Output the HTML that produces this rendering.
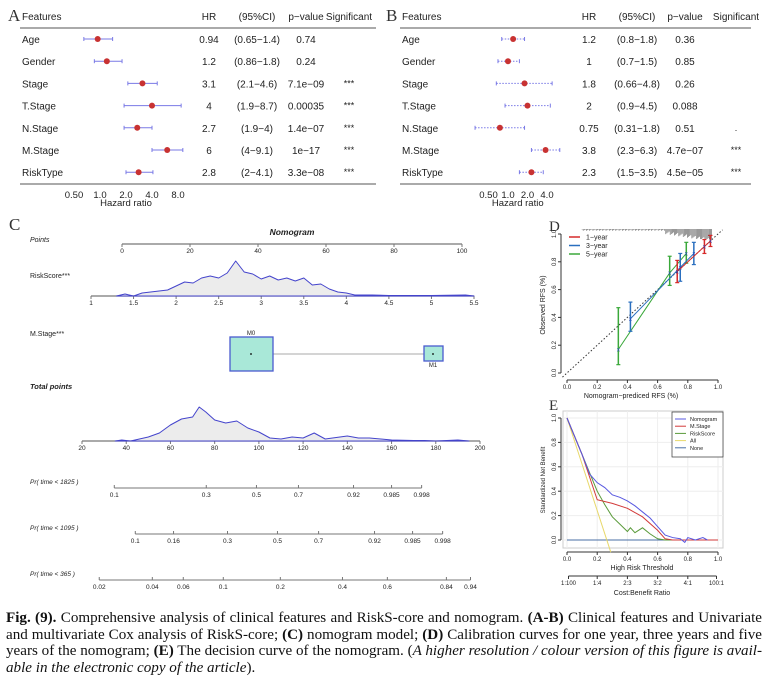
<!DOCTYPE html>
<html><head><meta charset="utf-8">
<style>
body{margin:0;background:#fff;width:768px;height:678px;overflow:hidden;position:relative;font-family:"Liberation Sans",sans-serif}
svg{position:absolute;left:0;top:0}
#cap{position:absolute;left:6px;top:610px;width:756px;font-family:"Liberation Serif",serif;font-size:15.1px;line-height:16.5px;text-align:justify;color:#111;hyphens:manual}
</style></head><body>
<svg id="fig" width="768" height="606" viewBox="0 0 768 606" font-family="Liberation Sans, sans-serif"></svg>
<div id="cap"><b>Fig. (9).</b> Comprehensive analysis of clinical features and RiskS-core and nomogram. <b>(A-B)</b> Clinical features and Univariate and multivariate Cox analysis of RiskS-core; <b>(C)</b> nomogram model; <b>(D)</b> Calibration curves for one year, three years and five years of the nomogram; <b>(E)</b> The decision curve of the nomogram. (<i>A higher resolution / colour version of this figure is avail&shy;able in the electronic copy of the article</i>).</div>
<script>
// ---- Forest A ----
const featuresA=["Age","Gender","Stage","T.Stage","N.Stage","M.Stage","RiskType"];
const hrA=[0.94,1.2,3.1,4,2.7,6,2.8];
const loA=[0.65,0.86,2.1,1.9,1.9,4,2];
const hiA=[1.4,1.8,4.6,8.7,4,9.1,4.1];
const ciA=["(0.65−1.4)","(0.86−1.8)","(2.1−4.6)","(1.9−8.7)","(1.9−4)","(4−9.1)","(2−4.1)"];
const pA=["0.74","0.24","7.1e−09","0.00035","1.4e−07","1e−17","3.3e−08"];
const sigA=["","","***","***","***","***","***"];
const ticksA=[0.5,1,2,4,8];
const tickLabA=["0.50","1.0","2.0","4.0","8.0"];
// ---- Forest B ----
const featuresB=["Age","Gender","Stage","T.Stage","N.Stage","M.Stage","RiskType"];
const hrB=[1.2,1,1.8,2,0.75,3.8,2.3];
const loB=[0.8,0.7,0.66,0.9,0.31,2.3,1.5];
const hiB=[1.8,1.5,4.8,4.5,1.8,6.3,3.5];
const ciB=["(0.8−1.8)","(0.7−1.5)","(0.66−4.8)","(0.9−4.5)","(0.31−1.8)","(2.3−6.3)","(1.5−3.5)"];
const pB=["0.36","0.85","0.26","0.088","0.51","4.7e−07","4.5e−05"];
const sigB=["","","","",".","***","***"];
const ticksB=[0.5,1,2,4];
const tickLabB=["0.50","1.0","2.0","4.0"];
// ---- Nomogram ----
const pointTicks=[0,20,40,60,80,100];
const rsTicks=[1,1.5,2,2.5,3,3.5,4,4.5,5,5.5];
const rsX=[1.3,1.4,1.5,1.6,1.8,1.9,2.0,2.1,2.2,2.3,2.4,2.5,2.6,2.7,2.8,2.9,3.0,3.1,3.2,3.3,3.4,3.5,3.6,3.7,3.8,3.9,4.0,4.1,4.3,4.5,5.0,5.4,5.5];
const rsD=[0,2,0,3,5,6,10,14,13,18,20,18,23,35,24,22,17,20,16,18,15,18,11,12,7,4,3,1,1,0.5,0.5,1,0];
const tpTicks=[20,40,60,80,100,120,140,160,180,200];
const tpX=[35,38,42,50,55,60,65,70,73,76,80,85,90,95,100,105,110,115,120,125,130,140,145,150,160,170,175,180,190,195];
const tpD=[0,1,0,4,8,16,22,24,34,29,21,18,20,13,9,3,2,4,3,8,2,5,3,3,1,0.5,0.5,0,1,0];
const pr1825Lab=["0.1","0.3","0.5","0.7","0.92","0.985","0.998"];
const pr1825Pts=[34.6,76.2,98.9,117.9,142.8,160,173.6];
const pr1095Lab=["0.1","0.16","0.3","0.5","0.7","0.92","0.985","0.998"];
const pr1095Pts=[44.1,61.4,85.8,108.4,127,152.3,169.5,183.1];
const pr365Lab=["0.02","0.04","0.06","0.1","0.2","0.4","0.6","0.84","0.94"];
const pr365Pts=[27.8,51.8,65.8,83.9,109.7,137.8,158.1,184.8,195.7];
// ---- Calibration ----
const cal1X=[0.73,0.91,0.95],cal1Y=[0.73,0.91,0.95],cal1Lo=[0.65,0.86,0.91],cal1Hi=[0.81,0.96,0.99];
const cal3X=[0.42,0.75,0.84],cal3Y=[0.39,0.76,0.86],cal3Lo=[0.30,0.66,0.78],cal3Hi=[0.51,0.86,0.94];
const cal5X=[0.34,0.68,0.79],cal5Y=[0.17,0.72,0.86],cal5Lo=[0.06,0.63,0.79],cal5Hi=[0.47,0.84,0.94];
const calTicks=[0,0.2,0.4,0.6,0.8,1.0];
// ---- DCA ----
const dcaT=[0,0.1,0.15,0.2,0.25,0.3,0.35,0.4,0.45,0.5,0.55,0.6,0.65,0.7,0.75,0.78,0.8,0.85,0.9,0.93];
const dcaNomo=[1,0.7,0.54,0.47,0.43,0.37,0.35,0.32,0.28,0.23,0.18,0.11,0.04,0.02,0.01,-0.02,0.02,0,0.02,0];
const dcaMT=[0,0.1,0.2,0.3,0.4,0.5,0.6,0.65,0.7,0.8,0.9,1.0];
const dcaMS=[1,0.7,0.33,0.3,0.26,0.19,0.08,0.01,0,0,0,0];
const dcaRT=[0,0.1,0.2,0.25,0.3,0.35,0.4,0.42,0.45,0.5,0.55,0.6,0.65,0.7,1.0];
const dcaRS=[1,0.7,0.4,0.29,0.19,0.13,0.07,0.1,0.06,0.1,0.05,0.01,0,0,0];
const dcaAllT=[0,0.29];
const dcaAll=[1,-0.1];
const cbLab=["1:100","1:4","2:3","3:2","4:1","100:1"];
const cbT=[0.01,0.2,0.4,0.6,0.8,0.99];

const svg=document.getElementById('fig');
const NS="http://www.w3.org/2000/svg";
function mk(tag,attrs,parent){const e=document.createElementNS(NS,tag);for(const k in attrs)e.setAttribute(k,attrs[k]);(parent||svg).appendChild(e);return e;}
function txt(x,y,s,size,anchor,extra,parent){const t=mk('text',Object.assign({x:x,y:y,'font-size':size,'text-anchor':anchor||'start',fill:'#222'},extra||{}),parent);t.textContent=s;return t;}

// forest panels
function forest(ox,fx,feat,hr,lo,hi,ci,p,sig,ticks,tl,x0,k,dotted,letter,cols,lineEnd){
  const g=mk('g',{});
  
  
  const xs=v=>x0+k*Math.log2(v);
  const L=mk('text',{x:ox,y:21,'font-size':17,'font-family':'Liberation Serif, serif',fill:'#333'},g);L.textContent=letter;
  const hy=20;
  txt(fx,hy,"Features",10,'start',{},g);
  txt(cols[0],hy,"HR",10,'middle',{},g);
  txt(cols[1],hy,"(95%CI)",10,'middle',{},g);
  txt(cols[2],hy,"p−value",10,'middle',{},g);
  txt(cols[3],hy,"Significant",10,'middle',{},g);
  mk('line',{x1:fx-2,x2:lineEnd,y1:28,y2:28,stroke:'#555','stroke-width':1},g);
  mk('line',{x1:fx-2,x2:lineEnd,y1:184,y2:184,stroke:'#555','stroke-width':1},g);
  for(let i=0;i<feat.length;i++){
    const y=39+i*22.2;
    const r=mk('g',{},g);
    
    
    txt(fx,y+4,feat[i],10,'start',{},r);
    txt(cols[0],y+4,String(hr[i]),10,'middle',{},r);
    txt(cols[1],y+4,ci[i],10,'middle',{},r);
    txt(cols[2],y+4,p[i],10,'middle',{},r);
    txt(cols[3],y+3,sig[i],9,'middle',{},r);
    mk('line',{x1:xs(lo[i]),x2:xs(hi[i]),y1:y,y2:y,stroke:'#7a7ae6','stroke-width':1,'stroke-dasharray':dotted?'1.5,1.5':'none'},r);
    mk('line',{x1:xs(lo[i]),x2:xs(lo[i]),y1:y-2,y2:y+2,stroke:'#7a7ae6'},r);
    mk('line',{x1:xs(hi[i]),x2:xs(hi[i]),y1:y-2,y2:y+2,stroke:'#7a7ae6'},r);
    mk('circle',{cx:xs(hr[i]),cy:y,r:3,fill:'#c83232'},r);
  }
  ticks.forEach((v,i)=>txt(xs(v),198,tl[i],9.5,'middle',{},g));
  txt(xs(Math.sqrt(ticks[0]*ticks[ticks.length-1])),206,"Hazard ratio",9.5,'middle',{},g);
}
forest(8,22,featuresA,hrA,loA,hiA,ciA,pA,sigA,ticksA,tickLabA,100,26,false,'A',[209,257,306,349],376);
forest(386,402,featuresB,hrB,loB,hiB,ciB,pB,sigB,ticksB,tickLabB,508,19.5,true,'B',[589,637,685,736],751);

// Nomogram
const gN=mk('g',{});


const Lc=mk('text',{x:9,y:230,'font-size':17,'font-family':'Liberation Serif, serif',fill:'#333'},gN);Lc.textContent='C';
txt(292,235,"Nomogram",8.5,'middle',{'font-weight':'bold','font-style':'italic'},gN);
txt(30,242,"Points",7,'start',{'font-style':'italic'},gN);
function axis(x1,x2,y,vals,labs,v0,v1,g,name,ty){
  const a=mk('g',{},g);
  
  
  const s=v=>x1+(v-v0)/(v1-v0)*(x2-x1);
  mk('line',{x1:x1,x2:x2,y1:y,y2:y,stroke:'#777','stroke-width':1.2},a);
  vals.forEach((v,i)=>{mk('line',{x1:s(v),x2:s(v),y1:y,y2:y+3,stroke:'#777'},a);txt(s(v),y+(ty||9),labs[i],6.5,'middle',{},a);});
  return s;
}
axis(122,462,244,pointTicks,pointTicks.map(String),0,100,gN,'points-axis');
txt(30,278,"RiskScore***",7,'start',{},gN);
const rsS=axis(91,474,296,rsTicks,rsTicks.map(String),1,5.5,gN,'riskscore-axis');
function dens(xs,ds,sc,base,name){
  let d='M'+sc(xs[0])+','+base;
  xs.forEach((v,i)=>{d+=' L'+sc(v).toFixed(1)+','+(base-ds[i]).toFixed(1);});
  d+=' L'+sc(xs[xs.length-1])+','+base+' Z';
  const p=mk('path',{d:d,fill:'#ececec',stroke:'#4444cc','stroke-width':1,'stroke-linejoin':'round'},gN);
  
  
}
dens(rsX,rsD,rsS,296,'riskscore-density');
txt(30,336,"M.Stage***",7,'start',{},gN);
mk('line',{x1:273,x2:424,y1:354,y2:354,stroke:'#aaa'},gN);
const b0=mk('rect',{x:230,y:337,width:43,height:34,fill:'#a9e8d8',stroke:'#4a5ad0','stroke-width':1.3},gN);

const b1=mk('rect',{x:424,y:346,width:19,height:15,fill:'#a9e8d8',stroke:'#4a5ad0','stroke-width':1.3},gN);

mk('circle',{cx:251,cy:354,r:0.9,fill:'#000'},gN);mk('circle',{cx:433,cy:354,r:0.9,fill:'#000'},gN);
txt(251,335,"M0",6,'middle',{},gN);txt(433,367,"M1",6,'middle',{},gN);
txt(30,389,"Total points",7.5,'start',{'font-weight':'bold','font-style':'italic'},gN);
const tpS=axis(82,480,441,tpTicks,tpTicks.map(String),20,200,gN,'total-points-axis');
dens(tpX,tpD,tpS,441,'total-points-density');
function prAxis(y,pts,labs,label,name){
  txt(30,y-6+2,label,6.5,'start',{'font-style':'italic'},gN);
  const a=mk('g',{},gN);
  
  
  mk('line',{x1:tpS(pts[0]),x2:tpS(pts[pts.length-1]),y1:y,y2:y,stroke:'#777'},a);
  pts.forEach((v,i)=>{mk('line',{x1:tpS(v),x2:tpS(v),y1:y,y2:y-3,stroke:'#777'},a);txt(tpS(v),y+9,labs[i],6.5,'middle',{},a);});
}
prAxis(488,pr1825Pts,pr1825Lab,"Pr( time < 1825 )",'pr-1825-axis');
prAxis(534,pr1095Pts,pr1095Lab,"Pr( time < 1095 )",'pr-1095-axis');
prAxis(580,pr365Pts,pr365Lab,"Pr( time < 365 )",'pr-365-axis');

// Calibration D
const gD=mk('g',{});


const Ld=mk('text',{x:549,y:231,'font-size':15,'font-family':'Liberation Serif, serif',fill:'#333'},gD);Ld.textContent='D';
const cx=v=>567+v*151, cy=v=>373-v*139;
mk('line',{x1:cx(0),x2:cx(1),y1:380,y2:380,stroke:'#333'},gD);
mk('line',{x1:561,x2:561,y1:cy(0),y2:cy(1),stroke:'#333'},gD);
calTicks.forEach(v=>{mk('line',{x1:cx(v),x2:cx(v),y1:380,y2:383,stroke:'#333'},gD);txt(cx(v),389,v.toFixed(1),6,'middle',{},gD);
 mk('line',{x1:561,x2:558,y1:cy(v),y2:cy(v),stroke:'#333'},gD);txt(556,cy(v),v.toFixed(1),6,'middle',{transform:'rotate(-90 556 '+cy(v)+')'},gD);});
txt(631,398,"Nomogram−prediced RFS (%)",7,'middle',{},gD);
txt(545,305,"Observed RFS (%)",7,'middle',{transform:'rotate(-90 545 305)'},gD);
mk('line',{x1:cx(-0.03),y1:cy(-0.03),x2:cx(1.03),y2:cy(1.03),stroke:'#333','stroke-dasharray':'1.5,2'},gD);
// rug
for(let i=0;i<120;i++){const v=0.1+i*0.0072;const h=v>0.65?(2+(v-0.65)*25+((i*7)%4)):((i*5)%3)*0.6+0.5;mk('line',{x1:cx(v),x2:cx(v),y1:229,y2:229+Math.min(h,10),stroke:'#555','stroke-width':0.6},gD);}
function cal(xs,ys,lo,hi,col,name){
  const g=mk('g',{},gD);
  
  
  mk('polyline',{points:xs.map((v,i)=>cx(v)+','+cy(ys[i])).join(' '),fill:'none',stroke:col,'stroke-width':1},g);
  xs.forEach((v,i)=>{mk('line',{x1:cx(v),x2:cx(v),y1:cy(lo[i]),y2:cy(hi[i]),stroke:col,'stroke-width':1.5},g);
   mk('line',{x1:cx(v)-2,x2:cx(v)+2,y1:cy(lo[i]),y2:cy(lo[i]),stroke:col,'stroke-width':1.2},g);
   mk('line',{x1:cx(v)-2,x2:cx(v)+2,y1:cy(hi[i]),y2:cy(hi[i]),stroke:col,'stroke-width':1.2},g);
   txt(cx(v),cy(ys[i])+2,'x',6,'middle',{fill:'#2244bb'},g);});
}
cal(cal5X,cal5Y,cal5Lo,cal5Hi,'#3aa83a','series-5-year');
cal(cal3X,cal3Y,cal3Lo,cal3Hi,'#2a6fbf','series-3-year');
cal(cal1X,cal1Y,cal1Lo,cal1Hi,'#d62a2a','series-1-year');
[['1−year','#d62a2a'],['3−year','#2a6fbf'],['5−year','#3aa83a']].forEach((e,i)=>{const y=237+i*8.5;
 const g=mk('g',{},gD);
 mk('line',{x1:569,x2:580,y1:y,y2:y,stroke:e[1],'stroke-width':1.5},g);txt(586,y+2.5,e[0],7,'start',{},g);});

// DCA E
const gE=mk('g',{});


const Le=mk('text',{x:549,y:410,'font-size':15,'font-family':'Liberation Serif, serif',fill:'#333'},gE);Le.textContent='E';
const ex=v=>567+v*151, ey=v=>540-v*122;
mk('rect',{x:563,y:411,width:160,height:137,fill:'none',stroke:'#ccc'},gE);
calTicks.forEach(v=>{mk('line',{x1:ex(v),x2:ex(v),y1:411,y2:548,stroke:'#eee'},gE);mk('line',{x1:563,x2:723,y1:ey(v),y2:ey(v),stroke:'#eee'},gE);});
mk('line',{x1:ex(0),x2:ex(1),y1:552,y2:552,stroke:'#333'},gE);
mk('line',{x1:561,x2:561,y1:ey(0),y2:ey(1),stroke:'#333'},gE);
calTicks.forEach(v=>{mk('line',{x1:ex(v),x2:ex(v),y1:552,y2:555,stroke:'#333'},gE);txt(ex(v),561,v.toFixed(1),6,'middle',{},gE);
 mk('line',{x1:561,x2:558,y1:ey(v),y2:ey(v),stroke:'#333'},gE);txt(556,ey(v),v.toFixed(1),6,'middle',{transform:'rotate(-90 556 '+ey(v)+')'},gE);});
txt(642,570,"High Risk Threshold",7,'middle',{},gE);
txt(545,480,"Standardized Net Benefit",6,'middle',{transform:'rotate(-90 545 480)'},gE);
mk('line',{x1:ex(0.01),x2:ex(0.99),y1:576,y2:576,stroke:'#333'},gE);
cbT.forEach((v,i)=>{mk('line',{x1:ex(v),x2:ex(v),y1:576,y2:579,stroke:'#333'},gE);txt(ex(v),585,cbLab[i],6,'middle',{},gE);});
txt(642,595,"Cost:Benefit Ratio",7,'middle',{},gE);
function dl(ts,vs,col,name){const p=mk('polyline',{points:ts.map((t,i)=>ex(t)+','+ey(vs[i])).join(' '),fill:'none',stroke:col,'stroke-width':1},gE);
 }
dl([0,1],[0,0],'#4a6fa5','none-line');
dl(dcaAllT,dcaAll,'#e8d86a','all-line');
dl(dcaRT,dcaRS,'#5a9a3a','riskscore-line');
dl(dcaMT,dcaMS,'#d23a3a','m-stage-line');
dl(dcaT,dcaNomo,'#5858e0','nomogram-line');
const lg=mk('g',{},gE);
mk('rect',{x:672,y:412,width:51,height:45,fill:'#fff',stroke:'#333','stroke-width':0.7},lg);
[['Nomogram','#5858e0'],['M.Stage','#d23a3a'],['RiskScore','#5a9a3a'],['All','#e8d86a'],['None','#4a6fa5']].forEach((e,i)=>{const y=419+i*7.2;
 mk('line',{x1:675,x2:686,y1:y,y2:y,stroke:e[1]},lg);txt(690,y+2,e[0],5.5,'start',{},lg);});
</script>
</body></html>
